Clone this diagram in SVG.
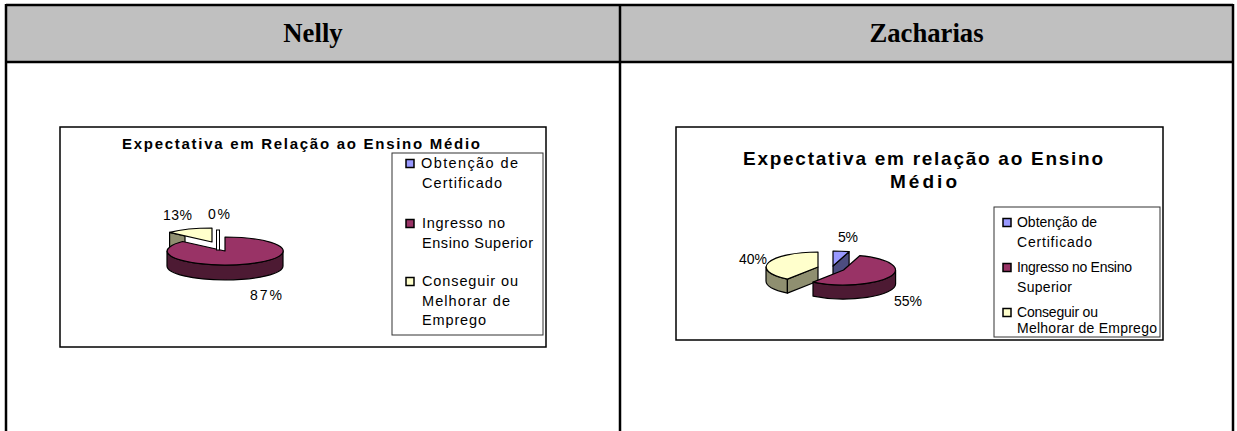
<svg xmlns="http://www.w3.org/2000/svg" width="1237" height="431" viewBox="0 0 1237 431">
<style>
.hdr{font-family:"Liberation Serif","Times New Roman",serif;font-weight:bold;font-size:26.7px;fill:#000;text-anchor:middle}
.t{font-family:"Liberation Sans",Arial,sans-serif;fill:#000}
.ttl{font-weight:bold}
.lgl{font-size:14.5px}
.lgr{font-size:14px}
.pl{font-size:14px}
.box{fill:#fff;stroke:#000;stroke-width:1.5}
.lbox{fill:#fff;stroke:#333;stroke-width:1}
.sq{stroke:#000;stroke-width:1.5}
.sl{stroke:#000;stroke-width:1.2;stroke-linejoin:round}
.mag{fill:#993366}.magd{fill:#4D1A33}
.yel{fill:#FFFFCC}.yeld{fill:#8F8F70}
.blu{fill:#9999FF}.blud{fill:#4D4D80}
</style>
<g id="table">
<rect x="6" y="5" width="1227" height="57" fill="#C0C0C0"/>
<path d="M6,5 H1233 M6,62 H1233 M6,4 V431 M620,5 V431 M1233,4 V431" stroke="#000" stroke-width="2.5" fill="none"/>
<text class="hdr" x="313" y="42">Nelly</text>
<text class="hdr" x="926.5" y="42">Zacharias</text>
</g>
<g id="connectors"></g>
<g id="chart-nelly">
<rect class="box" x="60" y="127" width="486" height="220"/>
<text class="t ttl" font-size="15" x="122" y="149" textLength="358" lengthAdjust="spacing">Expectativa em Relação ao Ensino Médio</text>
<g id="pie-nelly">
<path class="yeld sl" d="M169.6,232.45 L185,235.9 L185,250.9 L169.6,247.45 Z"/>
<path class="yel sl" d="M212,242 L169.6,232.45 A58,14 0 0 1 212,228 Z"/>
<path class="magd sl" d="M283,251 A58,14 0 0 1 167,251 L167,266 A58,14 0 0 0 283,266 Z"/>
<path class="mag sl" d="M225,251 L225,237 A58,14 0 1 1 182.6,241.5 Z"/>
<rect x="216.5" y="230" width="3" height="20" fill="#fff" stroke="#000" stroke-width="1"/>
</g>
<text class="t pl" x="163" y="220" textLength="29" lengthAdjust="spacing">13%</text>
<text class="t pl" x="208" y="219" textLength="22" lengthAdjust="spacing">0%</text>
<text class="t pl" x="250" y="300" textLength="32" lengthAdjust="spacing">87%</text>
<g id="legend-nelly">
<rect class="lbox" x="392" y="153" width="151" height="182"/>
<rect class="sq blu" x="406" y="159.5" width="8" height="8"/>
<text class="t lgl" x="421" y="168" textLength="97" lengthAdjust="spacing">Obtenção de</text>
<text class="t lgl" x="422" y="188" textLength="80" lengthAdjust="spacing">Certificado</text>
<rect class="sq mag" x="406" y="219.5" width="8" height="8"/>
<text class="t lgl" x="422" y="228" textLength="83" lengthAdjust="spacing">Ingresso no</text>
<text class="t lgl" x="422" y="248" textLength="111" lengthAdjust="spacing">Ensino Superior</text>
<rect class="sq yel" x="406" y="277.5" width="8" height="8"/>
<text class="t lgl" x="422" y="286" textLength="96" lengthAdjust="spacing">Conseguir ou</text>
<text class="t lgl" x="422" y="306" textLength="88" lengthAdjust="spacing">Melhorar de</text>
<text class="t lgl" x="422" y="325" textLength="64" lengthAdjust="spacing">Emprego</text>
</g>
</g>
<g id="chart-zacharias">
<rect class="box" x="676" y="127" width="487" height="213"/>
<text class="t ttl" font-size="19" x="743" y="165" textLength="360" lengthAdjust="spacing">Expectativa em relação ao Ensino</text>
<text class="t ttl" font-size="19" x="890" y="188" textLength="67" lengthAdjust="spacing">Médio</text>
<g id="pie-zacharias">
<path class="yeld sl" d="M787.4,279.1 A52,15 0 0 1 766,267 L766,281 A52,15 0 0 0 787.4,293.1 Z"/>
<path class="yeld sl" d="M818,267 L787.4,279.1 L787.4,293.1 L818,281 Z"/>
<path class="yel sl" d="M818,267 L787.4,279.1 A52,15 0 0 1 818,252 Z"/>
<path class="blud sl" d="M833,266 L849.1,251.7 L849.1,265.7 L833,280 Z"/>
<path class="blu sl" d="M833,266 L833,251 A52,15 0 0 1 849.1,251.7 Z"/>
<path class="magd sl" d="M895.6,270 A52,15 0 0 1 813,282.1 L813,296.1 A52,15 0 0 0 895.6,284 Z"/>
<path class="mag sl" d="M843.6,270 L859.7,255.7 A52,15 0 1 1 813,282.1 Z"/>
</g>
<text class="t pl" x="838" y="242" textLength="20" lengthAdjust="spacing">5%</text>
<text class="t pl" x="739" y="264" textLength="28" lengthAdjust="spacing">40%</text>
<text class="t pl" x="894" y="306" textLength="28" lengthAdjust="spacing">55%</text>
<g id="legend-zacharias">
<rect class="lbox" x="994" y="207" width="166" height="130"/>
<rect class="sq blu" x="1003" y="218.5" width="8" height="8"/>
<text class="t lgr" x="1017" y="227" textLength="80" lengthAdjust="spacing">Obtenção de</text>
<text class="t lgr" x="1017" y="247" textLength="75" lengthAdjust="spacing">Certificado</text>
<rect class="sq mag" x="1003" y="263.5" width="8" height="8"/>
<text class="t lgr" x="1017" y="272" textLength="115" lengthAdjust="spacing">Ingresso no Ensino</text>
<text class="t lgr" x="1017" y="292" textLength="55" lengthAdjust="spacing">Superior</text>
<rect class="sq yel" x="1003" y="308.5" width="8" height="8"/>
<text class="t lgr" x="1017" y="317" textLength="81" lengthAdjust="spacing">Conseguir ou</text>
<text class="t lgr" x="1017" y="333" textLength="140" lengthAdjust="spacing">Melhorar de Emprego</text>
</g>
</g>
</svg>
